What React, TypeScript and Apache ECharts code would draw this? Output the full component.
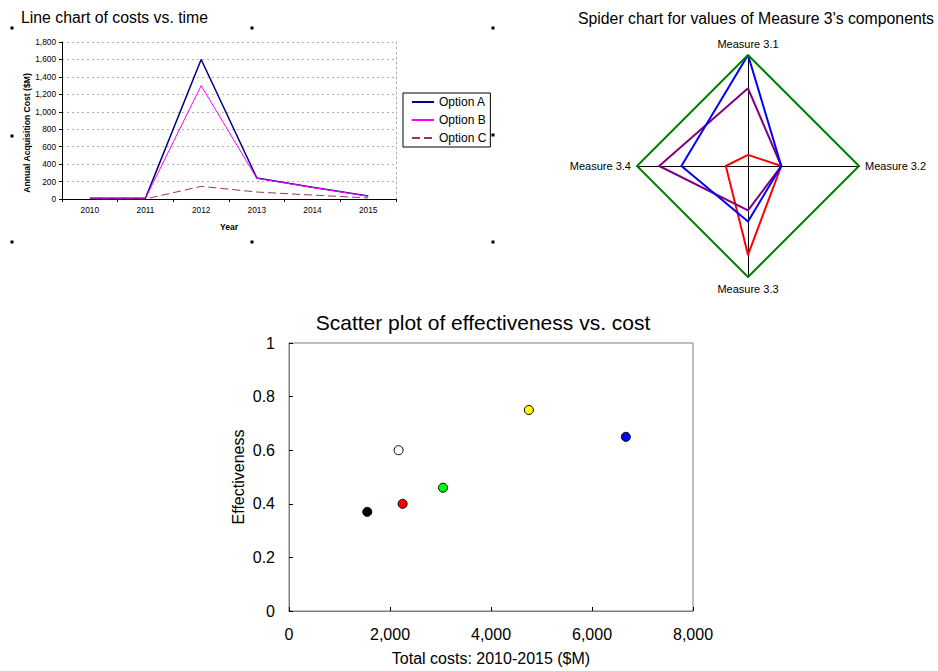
import React, { useEffect, useRef } from 'react';
import * as echarts from 'echarts';

// ---- Line chart data ----
const years = ['2010', '2011', '2012', '2013', '2014', '2015'];
const optionA = [10, 10, 1600, 240, 135, 35];
const optionB = [10, 10, 1300, 237, 132, 32];
const optionC = [0, 0, 145, 80, 45, 12];

// ---- Spider data (order: 3.1, 3.2, 3.3, 3.4) ----
const measures = ['Measure 3.1', 'Measure 3.2', 'Measure 3.3', 'Measure 3.4'];
const radarGreen = [1, 1, 1, 1];
const radarBlue = [1, 0.3, 0.5, 0.6];
const radarPurple = [0.7, 0.3, 0.4, 0.8];
const radarRed = [0.1, 0.3, 0.8, 0.2];

// ---- Scatter data ----
const totalCosts = [1550, 2170, 2250, 3050, 4750, 6670];
const effectiveness = [0.37, 0.6, 0.4, 0.46, 0.75, 0.65];
const pointColors = ['#000000', '#ffffff', '#ff0000', '#00ff00', '#ffff00', '#0000ff'];

const FONT = "'Liberation Sans', Arial, Helvetica, sans-serif";
// radar indicators run counter-clockwise from the top: 3.1, 3.4, 3.3, 3.2
const radarOrder = [0, 3, 2, 1];
const reorder = (arr: number[]) => radarOrder.map((i) => arr[i]);

const handles = [
  [12, 28], [252, 28], [493, 28],
  [12, 136], [493, 135],
  [12, 242], [252, 242], [493, 242],
];

export default function App() {
  const ref = useRef<HTMLDivElement>(null);
  useEffect(() => {
    if (!ref.current) return;
    const chart = echarts.init(ref.current, undefined, { renderer: 'svg' });
    const fmt = (v: number) => v.toLocaleString('en-US');
    const option: any = {
      animation: false,
      textStyle: { fontFamily: FONT },
      grid: [
        { left: 62, top: 42, width: 334, height: 157 },
        { left: 289, top: 343, width: 404, height: 268, show: true, borderColor: '#808080', borderWidth: 1 },
      ],
      xAxis: [
        {
          gridIndex: 0, type: 'category', data: years, boundaryGap: true,
          name: 'Year', nameLocation: 'middle', nameGap: 23,
          nameTextStyle: { fontSize: 8.5, fontWeight: 'bold', color: '#000', fontFamily: FONT },
          axisLine: { lineStyle: { color: '#000', width: 1 } },
          axisTick: { show: true, length: 3, lineStyle: { color: '#000' } },
          axisLabel: { fontSize: 8.3, color: '#000', margin: 7, fontFamily: FONT },
          splitLine: { show: false },
        },
        {
          gridIndex: 1, type: 'value', min: 0, max: 8000, interval: 2000,
          name: 'Total costs: 2010-2015 ($M)', nameLocation: 'middle', nameGap: 39,
          nameTextStyle: { fontSize: 16, color: '#000', fontFamily: FONT },
          axisLine: { lineStyle: { color: '#808080' } },
          axisTick: { inside: true, length: 4, lineStyle: { color: '#000' } },
          axisLabel: { fontSize: 16, color: '#000', margin: 15, formatter: fmt, fontFamily: FONT },
          splitLine: { show: false },
        },
      ],
      yAxis: [
        {
          gridIndex: 0, type: 'value', min: 0, max: 1800, interval: 200,
          axisLine: { show: true, lineStyle: { color: '#000' } },
          axisTick: { show: true, length: 3, lineStyle: { color: '#000' } },
          axisLabel: { fontSize: 8.3, color: '#000', margin: 6, formatter: fmt, fontFamily: FONT },
          splitLine: { show: true, lineStyle: { color: '#b0b0b0', type: [2, 3] } },
        },
        {
          gridIndex: 0, type: 'value', position: 'right', min: 0, max: 1800, interval: 1800,
          axisLine: { show: true, lineStyle: { color: '#b0b0b0', type: [2, 3] } },
          axisTick: { show: false }, axisLabel: { show: false }, splitLine: { show: false },
        },
        {
          gridIndex: 1, type: 'value', min: 0, max: 1, interval: 0.2,
          name: 'Effectiveness', nameLocation: 'middle', nameGap: 43,
          nameTextStyle: { fontSize: 16, color: '#000', fontFamily: FONT },
          axisLine: { show: true, lineStyle: { color: '#808080' } },
          axisTick: { show: true, inside: true, length: 4, lineStyle: { color: '#000' } },
          axisLabel: { fontSize: 16, color: '#000', margin: 14, fontFamily: FONT },
          splitLine: { show: false },
        },
      ],
      legend: {
        data: ['Option A', 'Option B', 'Option C'],
        orient: 'vertical', left: 403, top: 93,
        itemWidth: 22, itemHeight: 12, itemGap: 6,
        padding: [3, 4, 3, 8],
        borderColor: '#000', borderWidth: 1,
        itemStyle: { opacity: 0 },
        textStyle: { fontSize: 12, color: '#000', fontFamily: FONT },
      },
      radar: {
        center: [748, 166], radius: 111, startAngle: 90, shape: 'polygon', splitNumber: 1,
        indicator: radarOrder.map((i) => ({ name: measures[i], min: 0, max: 1 })),
        axisName: { color: '#000', fontSize: 11, fontFamily: FONT },
        nameGap: 6,
        axisLine: { lineStyle: { color: '#000', width: 1 } },
        splitLine: { show: false },
        splitArea: { show: false },
        axisTick: { show: false },
        axisLabel: { show: false },
      },
      series: [
        {
          name: 'Option A', type: 'line', xAxisIndex: 0, yAxisIndex: 0, data: optionA,
          symbol: 'none', lineStyle: { color: '#000080', width: 1.5 }, itemStyle: { color: '#000080' },
        },
        {
          name: 'Option B', type: 'line', xAxisIndex: 0, yAxisIndex: 0, data: optionB,
          symbol: 'none', lineStyle: { color: '#ff00ff', width: 1 }, itemStyle: { color: '#ff00ff' },
        },
        {
          name: 'Option C', type: 'line', xAxisIndex: 0, yAxisIndex: 0, data: optionC,
          symbol: 'none', lineStyle: { color: '#993366', width: 1, type: [8, 4] }, itemStyle: { color: '#993366' },
        },
        {
          name: 'Spider', type: 'radar', symbol: 'none',
          data: [
            { value: reorder(radarRed), name: 'Red', lineStyle: { color: '#ff0000', width: 2 }, itemStyle: { color: '#ff0000' } },
            { value: reorder(radarPurple), name: 'Purple', lineStyle: { color: '#800080', width: 2 }, itemStyle: { color: '#800080' } },
            { value: reorder(radarBlue), name: 'Blue', lineStyle: { color: '#0000ff', width: 2 }, itemStyle: { color: '#0000ff' } },
            { value: reorder(radarGreen), name: 'Green', lineStyle: { color: '#008000', width: 2 }, itemStyle: { color: '#008000' } },
          ],
        },
        {
          name: 'Options', type: 'scatter', xAxisIndex: 1, yAxisIndex: 2, symbolSize: 9,
          data: totalCosts.map((x, i) => ({
            value: [x, effectiveness[i]],
            itemStyle: { color: pointColors[i], borderColor: '#000', borderWidth: 1, opacity: 1 },
          })),
        },
      ],
      graphic: [
        {
          type: 'text', x: 21, y: 17,
          style: { text: 'Line chart of costs vs. time', fontSize: 15.8, fontFamily: FONT, fill: '#000', textAlign: 'left', textVerticalAlign: 'middle' },
        },
        {
          type: 'text', x: 578, y: 18,
          style: { text: "Spider chart for values of Measure 3's components", fontSize: 15.8, fontFamily: FONT, fill: '#000', textAlign: 'left', textVerticalAlign: 'middle' },
        },
        {
          type: 'text', x: 483, y: 322,
          style: { text: 'Scatter plot of effectiveness vs. cost', fontSize: 21, fontFamily: FONT, fill: '#000', textAlign: 'center', textVerticalAlign: 'middle' },
        },
        {
          type: 'text', x: 27, y: 133, rotation: Math.PI / 2,
          style: { text: 'Annual Acquisition Cost ($M)', fontSize: 8.6, fontWeight: 'bold', fontFamily: FONT, fill: '#000', textAlign: 'center', textVerticalAlign: 'middle' },
        },
        ...handles.map(([cx, cy]) => ({
          type: 'rect', shape: { x: cx - 1.5, y: cy - 1.5, width: 3, height: 3 }, style: { fill: '#000' },
        })),
      ],
    };
    chart.setOption(option);
    return () => chart.dispose();
  }, []);
  return <div ref={ref} style={{ position: 'absolute', left: 0, top: 0, width: 938, height: 671 }} />;
}
